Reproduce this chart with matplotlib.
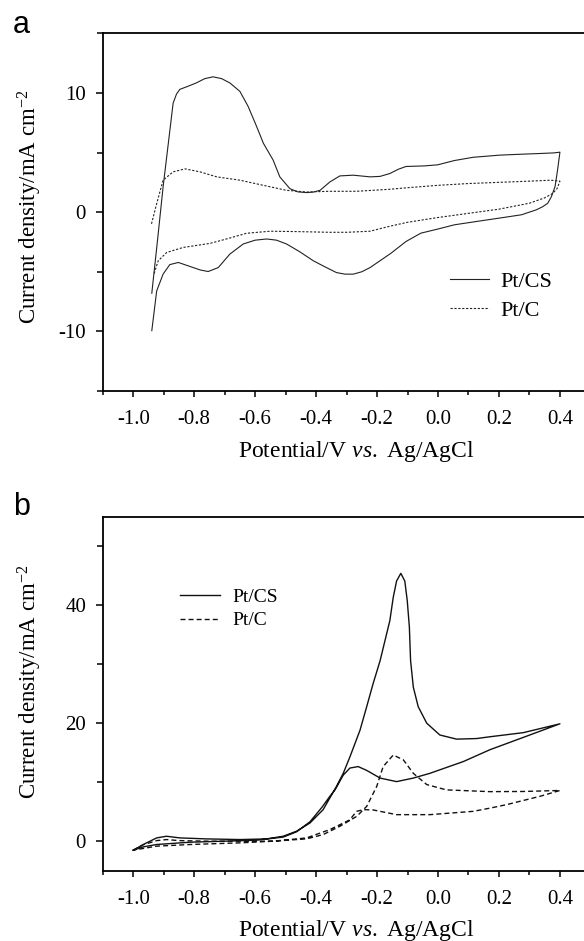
import matplotlib
matplotlib.use('Agg')
import matplotlib.pyplot as plt
from matplotlib.ticker import MultipleLocator

# ---- panel a: CV in blank electrolyte ----
# Pt/CS loop (anodic scan then cathodic scan back)
a_cs_x = [-0.939, -0.92, -0.902, -0.869, -0.858, -0.847, -0.82, -0.793, -0.765, -0.738,
          -0.71, -0.683, -0.65, -0.623, -0.595, -0.573, -0.541, -0.519, -0.486, -0.46,
          -0.431, -0.41, -0.387, -0.355, -0.322, -0.278, -0.223, -0.19, -0.158, -0.13,
          -0.105, -0.044, -0.001, 0.054, 0.115, 0.201, 0.274, 0.335, 0.38, 0.400,
          0.392, 0.384, 0.372, 0.360, 0.343, 0.323, 0.274, 0.201, 0.127, 0.054, -0.001,
          -0.056, -0.105, -0.154, -0.223, -0.25, -0.278, -0.305, -0.333, -0.37, -0.409,
          -0.455, -0.497, -0.53, -0.562, -0.6, -0.639, -0.683, -0.721, -0.754, -0.78,
          -0.803, -0.852, -0.88, -0.902, -0.923, -0.939]
a_cs_y = [-6.8, -2.3, 2.1, 9.15, 9.9, 10.3, 10.56, 10.84, 11.2, 11.35,
          11.2, 10.84, 10.13, 8.87, 7.18, 5.78, 4.37, 2.96, 1.97, 1.7,
          1.64, 1.68, 1.83, 2.53, 3.04, 3.1, 2.96, 3.0, 3.24, 3.6,
          3.83, 3.88, 3.97, 4.33, 4.6, 4.78, 4.86, 4.92, 4.97, 5.03,
          3.5, 2.15, 1.3, 0.75, 0.45, 0.2, -0.22, -0.5, -0.78, -1.06, -1.42,
          -1.76, -2.46, -3.44, -4.65, -5.0, -5.2, -5.2, -5.07, -4.6, -4.08,
          -3.3, -2.67, -2.35, -2.25, -2.35, -2.67, -3.52, -4.65, -4.98, -4.85,
          -4.65, -4.22, -4.4, -5.2, -6.61, -9.94]

# Pt/C loop
a_c_x = [-0.94, -0.923, -0.902, -0.869, -0.83, -0.781, -0.726, -0.65, -0.573, -0.497,
         -0.431, -0.355, -0.267, -0.158, -0.1, 0.0, 0.1, 0.2, 0.3, 0.37, 0.400,
         0.39, 0.375, 0.35, 0.3, 0.2, 0.1, 0.0, -0.1, -0.158, -0.223, -0.3, -0.355,
         -0.464, -0.551, -0.628, -0.694, -0.748, -0.836, -0.89, -0.918, -0.932]
a_c_y = [-0.98, 0.71, 2.68, 3.38, 3.63, 3.38, 2.96, 2.68, 2.25, 1.83,
         1.69, 1.75, 1.75, 1.92, 2.05, 2.25, 2.4, 2.5, 2.6, 2.68, 2.6,
         1.95, 1.55, 1.2, 0.75, 0.25, -0.1, -0.45, -0.85, -1.18, -1.6, -1.69, -1.69,
         -1.63, -1.6, -1.77, -2.25, -2.62, -2.96, -3.38, -4.08, -5.2]

# ---- panel b: methanol oxidation ----
b_cs_x = [-1.0, -0.967, -0.923, -0.891, -0.847, -0.759, -0.65, -0.563, -0.508, -0.464,
          -0.42, -0.377, -0.333, -0.311, -0.289, -0.256, -0.234, -0.213, -0.19, -0.174,
          -0.158, -0.147, -0.136, -0.122, -0.109, -0.101, -0.094, -0.09, -0.081, -0.065,
          -0.037, 0.006, 0.061, 0.127, 0.17, 0.28, 0.4,
          0.28, 0.17, 0.083, -0.027, -0.081, -0.136, -0.19, -0.234, -0.262, -0.289,
          -0.311, -0.338, -0.355, -0.38, -0.42, -0.464, -0.508, -0.595, -0.705, -0.814,
          -0.923, -0.967, -1.0]
b_cs_y = [-1.52, -0.56, 0.56, 0.84, 0.56, 0.39, 0.28, 0.39, 0.84, 1.69,
          3.09, 5.34, 9.3, 11.5, 14.3, 18.8, 22.8, 26.7, 30.6, 34.0,
          37.4, 41.3, 44.1, 45.4, 44.1, 40.8, 36.3, 30.6, 26.1, 22.8,
          20.0, 18.0, 17.3, 17.4, 17.7, 18.4, 19.9,
          17.6, 15.5, 13.5, 11.5, 10.7, 10.1, 10.7, 12.0, 12.65, 12.4,
          11.2, 8.7, 7.6, 5.8, 3.3, 1.6, 0.7, 0.17, 0.0, -0.17,
          -0.56, -0.96, -1.52]

b_c_x = [-1.0, -0.967, -0.923, -0.89, -0.85, -0.75, -0.65, -0.541, -0.431, -0.377,
         -0.322, -0.267, -0.234, -0.201, -0.18, -0.147, -0.114, -0.081, -0.037, 0.027,
         0.17, 0.28, 0.4,
         0.334, 0.225, 0.17, 0.115, -0.027, -0.136, -0.213, -0.245, -0.267, -0.29,
         -0.355, -0.431, -0.541, -0.65, -0.814, -0.923, -1.0]
b_c_y = [-1.52, -0.6, 0.1, 0.28, 0.1, 0.0, 0.0, 0.0, 0.4, 1.12,
         2.53, 4.2, 5.9, 9.3, 12.65, 14.6, 13.8, 11.5, 9.6, 8.7,
         8.4, 8.43, 8.6,
         7.6, 6.2, 5.6, 5.06, 4.5, 4.5, 5.3, 5.35, 5.06, 3.6,
         1.97, 0.56, 0.0, -0.28, -0.56, -0.84, -1.52]

labels = ['Pt/CS', 'Pt/C']

plt.rcParams['font.family'] = ['Liberation Serif', 'DejaVu Serif']
plt.rcParams['mathtext.fontset'] = 'custom'
plt.rcParams['mathtext.rm'] = 'Liberation Serif'
plt.rcParams['mathtext.it'] = 'Liberation Serif:italic'
plt.rcParams['axes.unicode_minus'] = False

fig = plt.figure(figsize=(5.84, 9.41), dpi=100)
ax_a = fig.add_axes([0.1759, 0.5845, 0.8351, 0.3801])
ax_b = fig.add_axes([0.1759, 0.0747, 0.8351, 0.3762])

ax_a.plot(a_cs_x, a_cs_y, color='#222222', lw=0.8, label=labels[0])
ax_a.plot(a_c_x, a_c_y, color='#222222', lw=0.8, ls=(0, (2, 1.5)), label=labels[1])
ax_b.plot(b_cs_x, b_cs_y, color='#111111', lw=1.0, label=labels[0])
ax_b.plot(b_c_x, b_c_y, color='#111111', lw=1.0, ls=(0, (3.6, 2.2)), label=labels[1])

ax_a.set_ylim(-15, 15)
ax_a.yaxis.set_major_locator(MultipleLocator(10))
ax_a.yaxis.set_minor_locator(MultipleLocator(5))
ax_b.set_ylim(-5, 55)
ax_b.yaxis.set_major_locator(MultipleLocator(20))
ax_b.yaxis.set_minor_locator(MultipleLocator(10))

for ax in (ax_a, ax_b):
    ax.set_xlim(-1.1, 0.5)
    ax.xaxis.set_major_locator(MultipleLocator(0.2))
    ax.xaxis.set_minor_locator(MultipleLocator(0.1))
    ax.xaxis.set_major_formatter(plt.FuncFormatter(lambda v, p: '%.1f' % (0.0 if abs(v) < 1e-9 else v)))
    for s in ax.spines.values():
        s.set_linewidth(1.3)
    ax.tick_params(axis='x', which='major', direction='out', length=4, width=1.1, labelsize=15, pad=10)
    ax.tick_params(axis='x', which='minor', direction='out', length=3, width=1.1)
    ax.tick_params(axis='y', which='major', direction='out', length=5, width=1.1, labelsize=15, pad=7)
    ax.tick_params(axis='y', which='minor', direction='out', length=4, width=1.1)
    ax.set_xlabel(r'Potential/V $\mathit{vs.}$ Ag/AgCl', fontsize=17, va='center')
    ax.xaxis.set_label_coords(0.52, -0.168)

ax_a.set_ylabel(r'Current density/mA cm$^{-2}$', fontsize=16.5, va='center')
ax_a.yaxis.set_label_coords(-0.149, 0.514)
ax_b.set_ylabel(r'Current density/mA cm$^{-2}$', fontsize=16.5, va='center')
ax_b.yaxis.set_label_coords(-0.149, 0.534)

ax_a.legend(loc='center left', bbox_to_anchor=(450 / 584, 1 - 296.2 / 941),
            bbox_transform=fig.transFigure, frameon=False, fontsize=16,
            handlelength=1.76, handletextpad=0.5, labelspacing=0.38, borderpad=0,
            borderaxespad=0)
ax_b.legend(loc='center left', bbox_to_anchor=(180 / 584, 1 - 608.7 / 941),
            bbox_transform=fig.transFigure, frameon=False, fontsize=14,
            handlelength=2.06, handletextpad=0.62, labelspacing=0.32, borderpad=0,
            borderaxespad=0)

fig.text(13 / 584, 1 - 33 / 941, 'a', family='Liberation Sans', fontsize=22, va='baseline')
fig.text(13 / 584, 1 - 515 / 941, 'b', family='Liberation Sans', fontsize=22, va='baseline')

fig.savefig('out.png', dpi=100)
